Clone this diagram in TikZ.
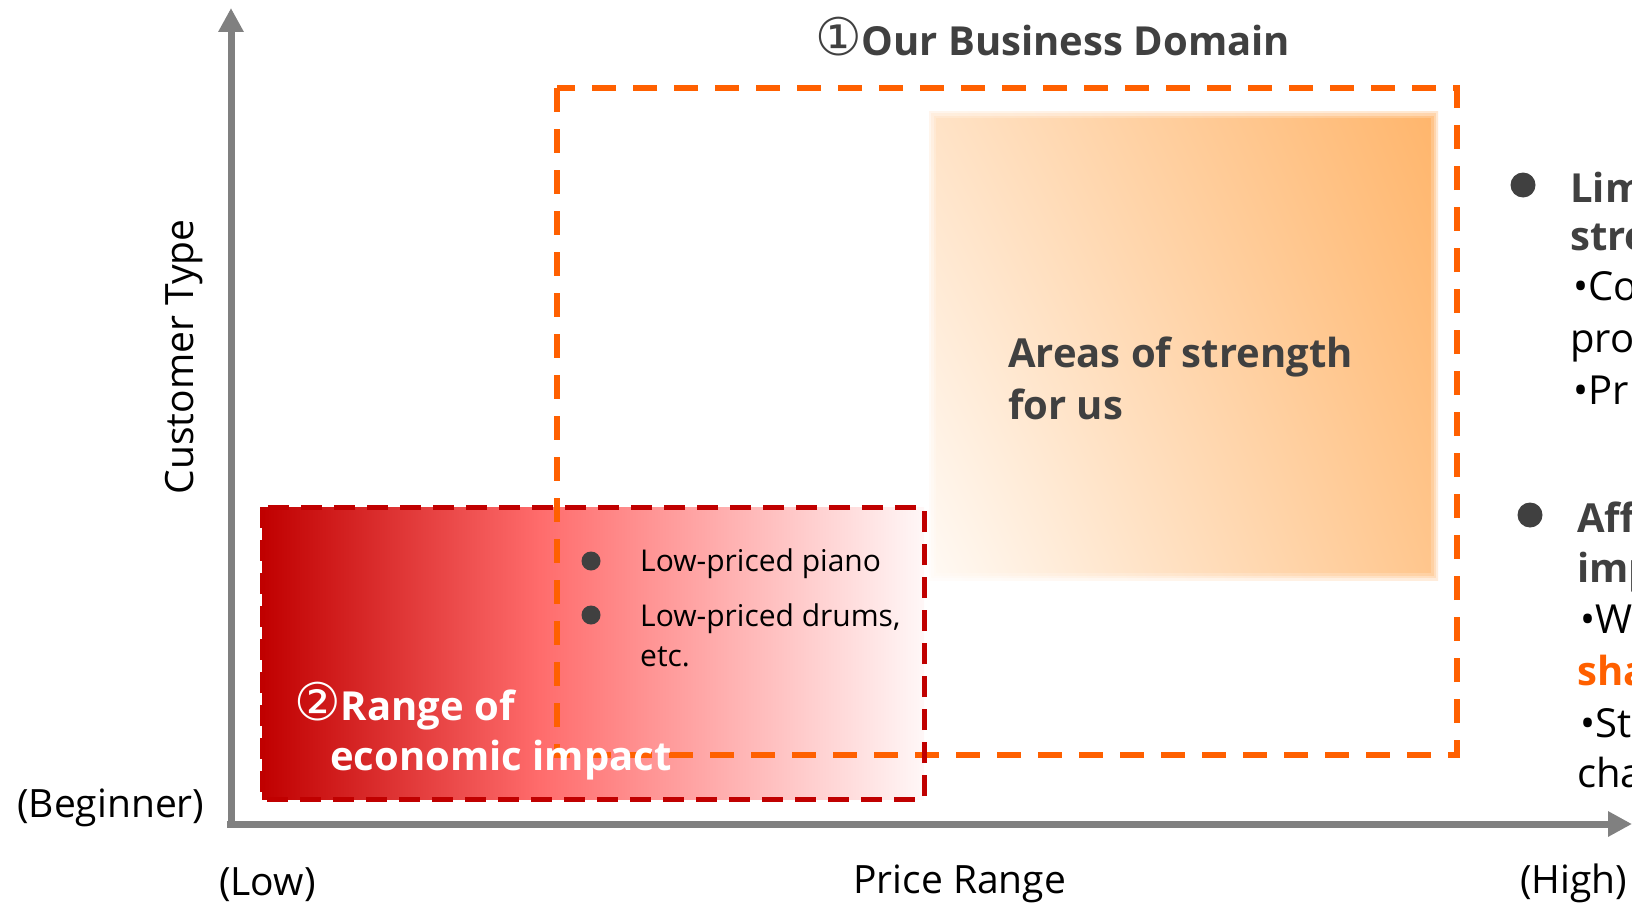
\documentclass[tikz,border=0pt]{standalone}
\usepackage{fontspec}
\setmainfont{Open Sans}
\newfontfamily\circfont{DejaVu Sans}
\usepackage{xcolor}
\usetikzlibrary{arrows.meta,shadings}

\definecolor{bizorange}{HTML}{FF6000}
\definecolor{econred}{HTML}{C00000}
\definecolor{econpink}{HTML}{FF6C6C}
\definecolor{labelgray}{HTML}{404040}
\definecolor{axisgray}{HTML}{808080}

% red fade of the economic impact range, dark on the left
\pgfdeclarehorizontalshading{econfade}{100bp}{color(0bp)=(econred); color(25bp)=(econred); color(46bp)=(econpink); color(75bp)=(white!97!red); color(100bp)=(white)}

% circled numbers come from DejaVu
\newcommand{\circnum}[1]{{\circfont\mdseries\fontsize{52}{52}\selectfont #1}}

\begin{document}
\begin{tikzpicture}[
  x=1pt, y=-1pt,
  axis/.style={axisgray, line width=7pt, -{Triangle[length=24pt, width=24pt]}},
  bizbox/.style={draw=bizorange, line width=6pt, dash pattern=on 24pt off 17pt},
  econbox/.style={draw=econred, line width=5pt, dash pattern=on 21pt off 12pt},
  axislbl/.style={inner sep=0pt, anchor=base west, font=\fontsize{39}{47}\selectfont},
  bigbold/.style={inner sep=0pt, anchor=base west, font=\fontsize{40}{52}\selectfont\bfseries, text=labelgray},
  itemlbl/.style={inner sep=0pt, anchor=base west, align=left, font=\fontsize{30}{40}\selectfont},
  sidelbl/.style={inner sep=0pt, anchor=base west, font=\fontsize{40}{52}\selectfont}
]

\clip (0,0) rectangle (1632,907);

% strength area with soft edges
\shade[upper left=orange!22!white, upper right=orange!58!white,
       lower left=orange!4!white, lower right=orange!45!white]
  (929,111) rectangle (1438,580);
\foreach \w/\o in {14/0.2, 9/0.3, 4/0.45}
  \draw[white, opacity=\o, line width=\w pt] (929,111) rectangle (1438,580);

% economic impact range
\shade[shading=econfade] (262,507) rectangle (924,799);

% business domain frame
\draw[bizbox] (557,88) rectangle (1457,755);
\draw[econbox] (262,507) rectangle (924,799);

% axes
\draw[axis] (231,822) -- (231,8);
\draw[axis] (227,824) -- (1632,824);

\node[bigbold] (domaintitle) at (815,56) {\circnum{①}Our Business Domain};
% multi-line nodes sit on their last baseline
\node[bigbold, align=left] (strength) at (1008,419) {Areas of strength\\for us};

\fill[labelgray] (591,561) circle (9.5);
\fill[labelgray] (591,615) circle (9.5);
\node[itemlbl] (piano) at (640,571) {Low-priced piano};
\node[itemlbl] (drums) at (640,666) {Low-priced drums,\\etc.};

\node[bigbold, text=white] (econA) at (294,720) {\circnum{②}Range of};
\node[bigbold, text=white] (econB) at (330,770) {economic impact};

\node[axislbl, rotate=90, anchor=base] (custtype) at (193,357) {Customer Type};
\node[axislbl] (beginner) at (17,817) {(Beginner)};
\node[axislbl] (low) at (219,895) {(Low)};
\node[axislbl] (price) at (853,893) {Price Range};
\node[axislbl] (high) at (1520,893) {(High)};

% notes running off the right edge
\fill[labelgray] (1523,185) circle (12.5);
\node[bigbold] (noteAa) at (1570,202) {Lim};
\node[bigbold] (noteAb) at (1570,250) {stre};
\node[sidelbl] (noteAc) at (1573,300) {•Co};
\node[sidelbl] (noteAd) at (1570,352) {pro};
\node[sidelbl] (noteAe) at (1573,404) {•Pr};

\fill[labelgray] (1530,515) circle (12.5);
\node[bigbold] (noteBa) at (1577,532) {Aff};
\node[bigbold] (noteBb) at (1577,582) {imp};
\node[sidelbl] (noteBc) at (1580,633) {•W};
\node[bigbold, text=bizorange] (noteBd) at (1577,685) {sha};
\node[sidelbl] (noteBe) at (1580,737) {•St};
\node[sidelbl] (noteBf) at (1577,787) {cha};

\end{tikzpicture}
\end{document}
